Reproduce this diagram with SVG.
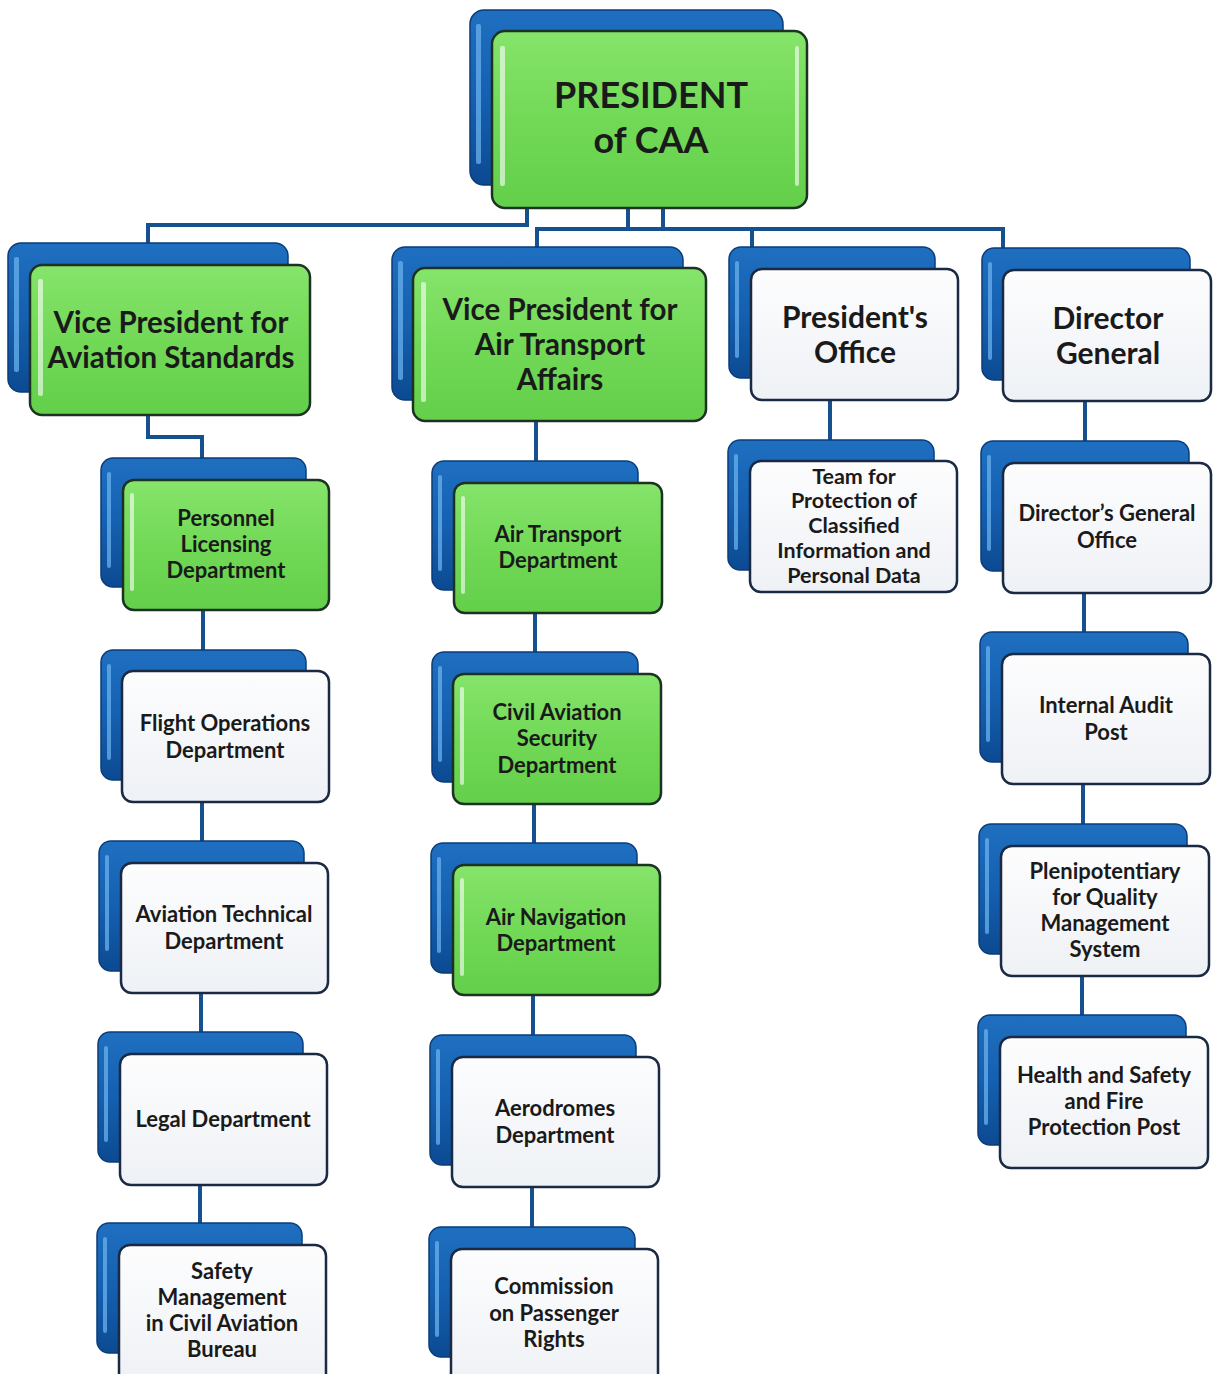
<svg xmlns="http://www.w3.org/2000/svg" width="1213" height="1374" viewBox="0 0 1213 1374">
<defs>
<linearGradient id="blueG" x1="0" y1="0" x2="0" y2="1">
<stop offset="0" stop-color="#1f6fc0"/>
<stop offset="0.5" stop-color="#1560b0"/>
<stop offset="1" stop-color="#0c4a92"/>
</linearGradient>
<linearGradient id="greenG" x1="0" y1="0" x2="0" y2="1">
<stop offset="0" stop-color="#86e46b"/>
<stop offset="0.5" stop-color="#72d957"/>
<stop offset="1" stop-color="#63cf4a"/>
</linearGradient>
<linearGradient id="whiteG" x1="0" y1="0" x2="0" y2="1">
<stop offset="0" stop-color="#fdfdfe"/>
<stop offset="1" stop-color="#eef1f5"/>
</linearGradient>
</defs>
<style>
.back{fill:url(#blueG);stroke:#0a3d7a;stroke-width:1.5}
.bhl{fill:#6ab2ee;opacity:0.75}
.green{fill:url(#greenG);stroke:#1c3324;stroke-width:2.5}
.white{fill:url(#whiteG);stroke:#1b2a44;stroke-width:2.5}
.fhl{fill:#ffffff;opacity:0.6}
.conn{fill:none;stroke:#17508e;stroke-width:4}
text{font-family:Lato,"Open Sans","Liberation Sans",sans-serif;font-weight:700;fill:#1a1a1a;text-anchor:middle}
.t36{font-size:36px}
.t29{font-size:29.5px}
.t30{font-size:30px}
.t22{font-size:22px}
.t21{font-size:21.5px}
</style>
<rect width="1213" height="1374" fill="#ffffff"/>
<g id="connectors">
<path class="conn" d="M527 208 V225 H148 V245"/>
<path class="conn" d="M628 208 V229"/>
<path class="conn" d="M663 208 V229"/>
<path class="conn" d="M537 249 V229 H1003 V250"/>
<path class="conn" d="M752 229 V249"/>
<path class="conn" d="M148 415 V437 H202 V460"/>
<path class="conn" d="M203 610 V652"/>
<path class="conn" d="M202 802 V843"/>
<path class="conn" d="M201 993 V1034"/>
<path class="conn" d="M200 1185 V1225"/>
<path class="conn" d="M536 421 V463"/>
<path class="conn" d="M535 613 V654"/>
<path class="conn" d="M534 804 V845"/>
<path class="conn" d="M533 995 V1037"/>
<path class="conn" d="M532 1187 V1229"/>
<path class="conn" d="M830 400 V442"/>
<path class="conn" d="M1085 401 V443"/>
<path class="conn" d="M1084 593 V634"/>
<path class="conn" d="M1083 784 V826"/>
<path class="conn" d="M1082 976 V1017"/>
</g>
<g id="president">
<rect class="back" x="470" y="10" width="313" height="175" rx="14"/>
<rect class="bhl" x="476" y="24" width="5" height="140" rx="2"/>
<rect class="green" x="492" y="31" width="315" height="177" rx="13"/>
<rect class="fhl" x="500" y="46" width="5" height="140" rx="2"/>
<rect class="fhl" x="795" y="46" width="4" height="140" rx="2" opacity="0.5"/>
<text class="t36" x="651" y="108">PRESIDENT</text>
<text class="t36" x="651" y="153">of CAA</text>
</g>
<g id="vp-aviation-standards">
<rect class="back" x="8" y="243" width="280" height="149" rx="13"/>
<rect class="bhl" x="14" y="257" width="5" height="115" rx="2"/>
<rect class="green" x="30" y="265" width="280" height="150" rx="12"/>
<rect class="fhl" x="38" y="279" width="5" height="117" rx="2"/>
<text class="t29" x="171" y="333">Vice President for</text>
<text class="t29" x="171" y="368">Aviation Standards</text>
</g>
<g id="personnel-licensing">
<rect class="back" x="101" y="458" width="205" height="129" rx="12"/>
<rect class="bhl" x="107" y="472" width="4" height="96" rx="2"/>
<rect class="green" x="123" y="480" width="206" height="130" rx="11"/>
<rect class="fhl" x="130" y="493" width="4" height="98" rx="2"/>
<text class="t22" x="226" y="526">Personnel</text>
<text class="t22" x="226" y="552">Licensing</text>
<text class="t22" x="226" y="578">Department</text>
</g>
<g id="flight-operations">
<rect class="back" x="101" y="650" width="205" height="130" rx="12"/>
<rect class="bhl" x="107" y="664" width="4" height="96" rx="2"/>
<rect class="white" x="122" y="671" width="207" height="131" rx="11"/>
<text class="t22" x="225" y="731">Flight Operations</text>
<text class="t22" x="225" y="758">Department</text>
</g>
<g id="aviation-technical">
<rect class="back" x="99" y="841" width="205" height="130" rx="12"/>
<rect class="bhl" x="105" y="855" width="4" height="96" rx="2"/>
<rect class="white" x="121" y="863" width="207" height="130" rx="11"/>
<text class="t22" x="224" y="922">Aviation Technical</text>
<text class="t22" x="224" y="949">Department</text>
</g>
<g id="legal">
<rect class="back" x="98" y="1032" width="205" height="130" rx="12"/>
<rect class="bhl" x="104" y="1046" width="4" height="96" rx="2"/>
<rect class="white" x="120" y="1054" width="207" height="131" rx="11"/>
<text class="t22" x="223" y="1127">Legal Department</text>
</g>
<g id="safety-management">
<rect class="back" x="97" y="1223" width="205" height="130" rx="12"/>
<rect class="bhl" x="103" y="1237" width="4" height="96" rx="2"/>
<rect class="white" x="119" y="1245" width="207" height="140" rx="11"/>
<text class="t22" x="222" y="1279">Safety</text>
<text class="t22" x="222" y="1305">Management</text>
<text class="t22" x="222" y="1331">in Civil Aviation</text>
<text class="t22" x="222" y="1357">Bureau</text>
</g>
<g id="vp-air-transport">
<rect class="back" x="392" y="247" width="291" height="153" rx="13"/>
<rect class="bhl" x="398" y="261" width="5" height="119" rx="2"/>
<rect class="green" x="413" y="268" width="293" height="153" rx="12"/>
<rect class="fhl" x="421" y="282" width="5" height="120" rx="2"/>
<text class="t29" x="560" y="320">Vice President for</text>
<text class="t29" x="560" y="355">Air Transport</text>
<text class="t29" x="560" y="390">Affairs</text>
</g>
<g id="air-transport-dept">
<rect class="back" x="432" y="461" width="206" height="129" rx="12"/>
<rect class="bhl" x="438" y="475" width="4" height="96" rx="2"/>
<rect class="green" x="454" y="483" width="208" height="130" rx="11"/>
<rect class="fhl" x="461" y="496" width="4" height="98" rx="2"/>
<text class="t22" x="558" y="542">Air Transport</text>
<text class="t22" x="558" y="568">Department</text>
</g>
<g id="civil-aviation-security">
<rect class="back" x="432" y="652" width="206" height="130" rx="12"/>
<rect class="bhl" x="438" y="666" width="4" height="96" rx="2"/>
<rect class="green" x="453" y="674" width="208" height="130" rx="11"/>
<rect class="fhl" x="460" y="687" width="4" height="98" rx="2"/>
<text class="t22" x="557" y="720">Civil Aviation</text>
<text class="t22" x="557" y="746">Security</text>
<text class="t22" x="557" y="773">Department</text>
</g>
<g id="air-navigation">
<rect class="back" x="431" y="843" width="206" height="130" rx="12"/>
<rect class="bhl" x="437" y="857" width="4" height="96" rx="2"/>
<rect class="green" x="453" y="865" width="207" height="130" rx="11"/>
<rect class="fhl" x="460" y="878" width="4" height="98" rx="2"/>
<text class="t22" x="556" y="925">Air Navigation</text>
<text class="t22" x="556" y="951">Department</text>
</g>
<g id="aerodromes">
<rect class="back" x="430" y="1035" width="206" height="130" rx="12"/>
<rect class="bhl" x="436" y="1049" width="4" height="96" rx="2"/>
<rect class="white" x="452" y="1057" width="207" height="130" rx="11"/>
<text class="t22" x="555" y="1116">Aerodromes</text>
<text class="t22" x="555" y="1143">Department</text>
</g>
<g id="passenger-rights">
<rect class="back" x="429" y="1227" width="206" height="130" rx="12"/>
<rect class="bhl" x="435" y="1241" width="4" height="96" rx="2"/>
<rect class="white" x="451" y="1249" width="207" height="140" rx="11"/>
<text class="t22" x="554" y="1294">Commission</text>
<text class="t22" x="554" y="1321">on Passenger</text>
<text class="t22" x="554" y="1347">Rights</text>
</g>
<g id="presidents-office">
<rect class="back" x="729" y="247" width="206" height="131" rx="12"/>
<rect class="bhl" x="735" y="261" width="4" height="97" rx="2"/>
<rect class="white" x="751" y="269" width="207" height="131" rx="11"/>
<text class="t30" x="855" y="328">President's</text>
<text class="t30" x="855" y="363">Office</text>
</g>
<g id="classified-info-team">
<rect class="back" x="728" y="440" width="206" height="130" rx="12"/>
<rect class="bhl" x="734" y="454" width="4" height="96" rx="2"/>
<rect class="white" x="750" y="461" width="207" height="131" rx="11"/>
<text class="t21" x="854" y="484">Team for</text>
<text class="t21" x="854" y="508">Protection of</text>
<text class="t21" x="854" y="533">Classified</text>
<text class="t21" x="854" y="558">Information and</text>
<text class="t21" x="854" y="583">Personal Data</text>
</g>
<g id="director-general">
<rect class="back" x="982" y="248" width="208" height="132" rx="12"/>
<rect class="bhl" x="988" y="262" width="4" height="98" rx="2"/>
<rect class="white" x="1003" y="270" width="208" height="131" rx="11"/>
<text class="t30" x="1108" y="329">Director</text>
<text class="t30" x="1108" y="364">General</text>
</g>
<g id="dg-office">
<rect class="back" x="981" y="441" width="208" height="130" rx="12"/>
<rect class="bhl" x="987" y="455" width="4" height="96" rx="2"/>
<rect class="white" x="1003" y="463" width="208" height="130" rx="11"/>
<text class="t22" x="1107" y="521">Director’s General</text>
<text class="t22" x="1107" y="548">Office</text>
</g>
<g id="internal-audit">
<rect class="back" x="980" y="632" width="208" height="130" rx="12"/>
<rect class="bhl" x="986" y="646" width="4" height="96" rx="2"/>
<rect class="white" x="1002" y="654" width="208" height="130" rx="11"/>
<text class="t22" x="1106" y="713">Internal Audit</text>
<text class="t22" x="1106" y="740">Post</text>
</g>
<g id="quality-management">
<rect class="back" x="979" y="824" width="208" height="130" rx="12"/>
<rect class="bhl" x="985" y="838" width="4" height="96" rx="2"/>
<rect class="white" x="1001" y="846" width="208" height="130" rx="11"/>
<text class="t22" x="1105" y="879">Plenipotentiary</text>
<text class="t22" x="1105" y="905">for Quality</text>
<text class="t22" x="1105" y="931">Management</text>
<text class="t22" x="1105" y="957">System</text>
</g>
<g id="health-safety">
<rect class="back" x="978" y="1015" width="208" height="130" rx="12"/>
<rect class="bhl" x="984" y="1029" width="4" height="96" rx="2"/>
<rect class="white" x="1000" y="1037" width="208" height="131" rx="11"/>
<text class="t22" x="1104" y="1083">Health and Safety</text>
<text class="t22" x="1104" y="1109">and Fire</text>
<text class="t22" x="1104" y="1135">Protection Post</text>
</g>
</svg>
